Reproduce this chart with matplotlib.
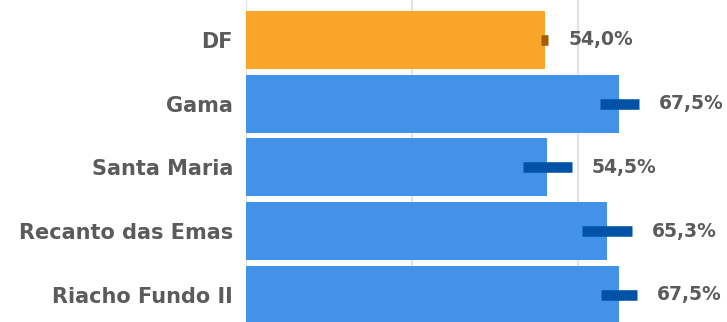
import matplotlib
matplotlib.use("Agg")
import matplotlib.pyplot as plt

categories = ["DF", "Gama", "Santa Maria", "Recanto das Emas", "Riacho Fundo II"]
values = [54.0, 67.5, 54.5, 65.3, 67.5]
errors = [0.7, 3.5, 4.4, 4.5, 3.2]
labels = ["54,0%", "67,5%", "54,5%", "65,3%", "67,5%"]
bar_colors = ["#F8A52A", "#4292EA", "#4292EA", "#4292EA", "#4292EA"]
err_colors = ["#A35C00", "#0052A6", "#0052A6", "#0052A6", "#0052A6"]

W, H = 727, 322
fig = plt.figure(figsize=(W / 100, H / 100), dpi=100)
ax = fig.add_axes([246 / W, 0, 481 / W, 1])

pos = list(range(len(categories)))
ax.barh(pos, values, height=0.91, color=bar_colors, zorder=2)
for i in pos:
    ax.errorbar(values[i], pos[i], xerr=errors[i], fmt="none",
                ecolor=err_colors[i], elinewidth=7.6, capsize=0, zorder=3)
    ax.annotate(labels[i], xy=(values[i] + errors[i], pos[i]),
                xytext=(14.4, 0), textcoords="offset points",
                ha="left", va="center", fontsize=13.5, fontweight="bold",
                color="#5b5b5b")

ax.set_xlim(0, 87)
ax.set_ylim(4.424, -0.627)
ax.set_xticks([0, 30, 60])
ax.grid(axis="x", color="#e3e3e3", linewidth=1.6, zorder=0)
ax.tick_params(axis="x", length=0, labelbottom=False)
ax.set_yticks(pos)
ax.set_yticklabels(categories, fontsize=15, fontweight="bold", color="#5b5b5b")
ax.tick_params(axis="y", length=0, pad=9.4)
for s in ax.spines.values():
    s.set_visible(False)

fig.savefig("out.png", dpi=100)
